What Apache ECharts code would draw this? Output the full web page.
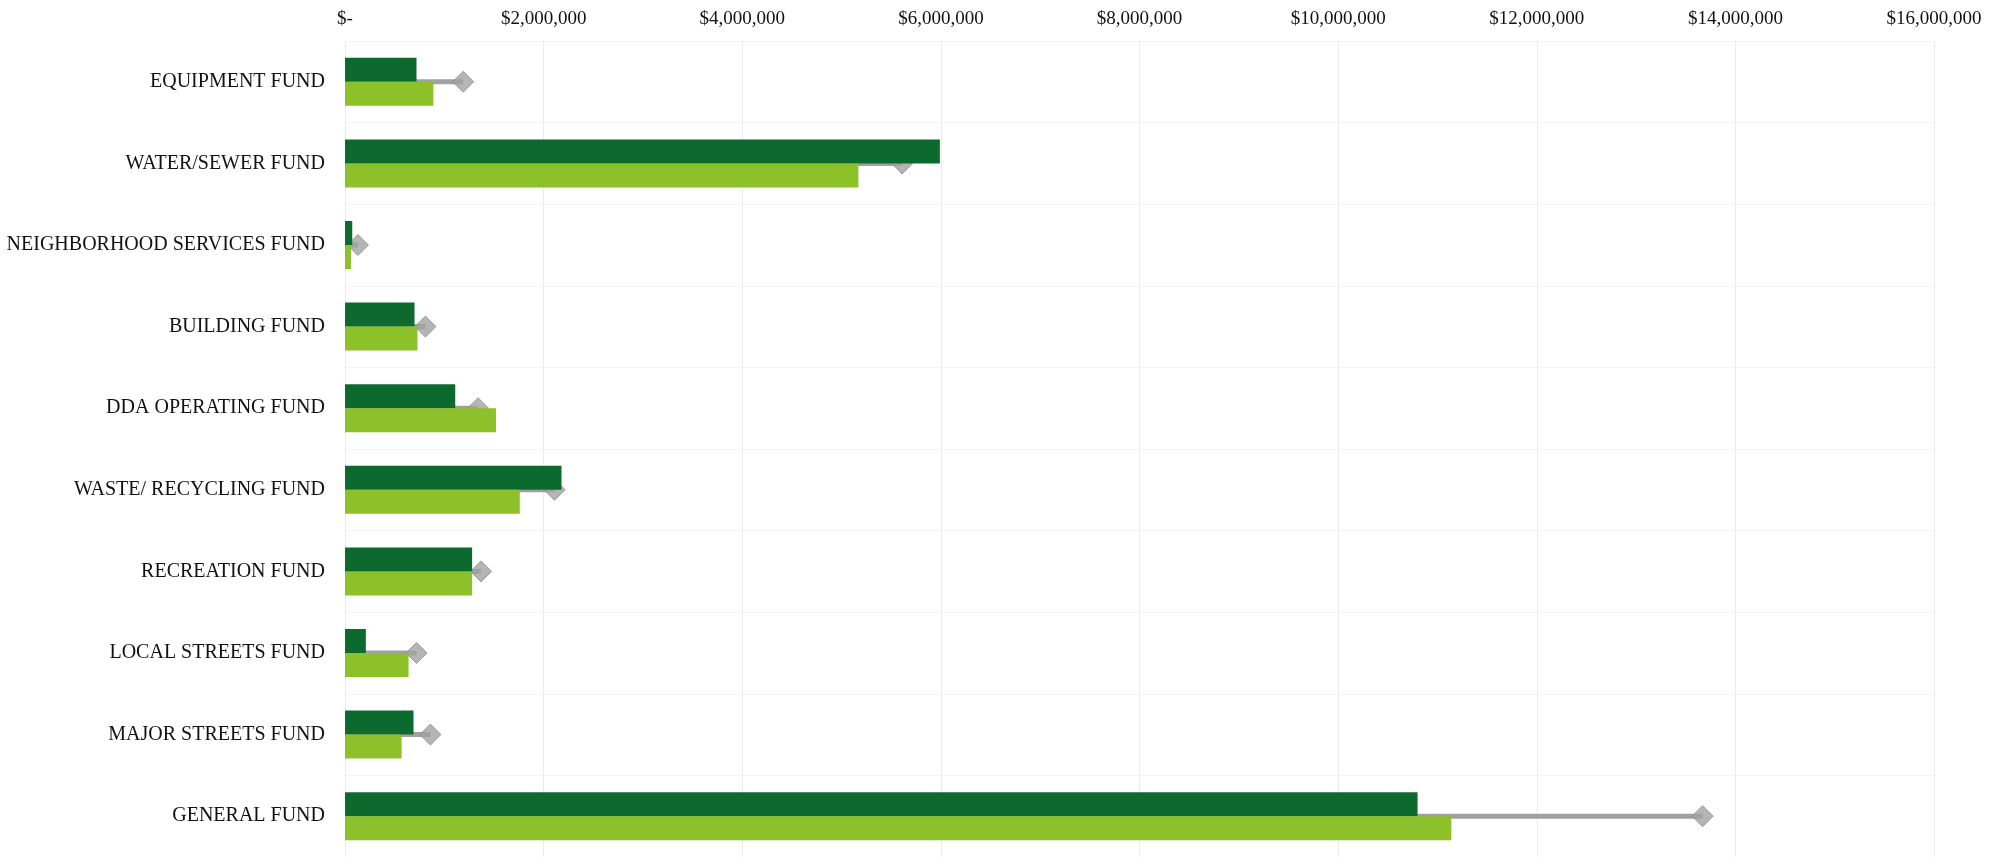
<!DOCTYPE html>
<html>
<head>
<meta charset="utf-8">
<title>Fund Comparison</title>
<script src="https://cdn.jsdelivr.net/npm/echarts@6/dist/echarts.min.js"></script>
<style>
  html, body { margin: 0; padding: 0; background: #fff; }
  #chart { width: 1998px; height: 857px; }
</style>
</head>
<body>
<div id="chart"></div>
<script>
// categories listed bottom to top, like the source spreadsheet
const funds = [
  'GENERAL FUND',
  'MAJOR STREETS FUND',
  'LOCAL STREETS FUND',
  'RECREATION FUND',
  'WASTE/ RECYCLING FUND',
  'DDA OPERATING FUND',
  'BUILDING FUND',
  'NEIGHBORHOOD SERVICES FUND',
  'WATER/SEWER FUND',
  'EQUIPMENT FUND'
];

// dark green bars (upper bar of each pair)
const darkValues = [10800000, 690000, 210000, 1280000, 2180000, 1110000, 700000, 73000, 5990000, 720000];
// light green bars (lower bar of each pair)
const lightValues = [11140000, 570000, 640000, 1280000, 1760000, 1520000, 730000, 60000, 5170000, 890000];
// grey line with diamond marker
const greyValues = [13670000, 860000, 720000, 1370000, 2110000, 1340000, 810000, 130000, 5610000, 1190000];

const tickLabels = ['$-', '$2,000,000', '$4,000,000', '$6,000,000', '$8,000,000',
  '$10,000,000', '$12,000,000', '$14,000,000', '$16,000,000'];

const chart = echarts.init(document.getElementById('chart'));

const labelFont = '"Liberation Serif", "DejaVu Serif", serif';

const option = {
  backgroundColor: '#ffffff',
  animation: false,
  grid: {
    left: 345,
    right: 64,
    top: 41,
    bottom: -12
  },
  xAxis: {
    type: 'value',
    position: 'top',
    min: 0,
    max: 16000000,
    interval: 2000000,
    axisLine: { show: false },
    axisTick: { show: false },
    axisLabel: {
      margin: 12,
      fontFamily: labelFont,
      fontSize: 19,
      color: '#111',
      formatter: function (v) {
        return tickLabels[Math.round(v / 2000000)];
      }
    },
    splitLine: { lineStyle: { color: '#ececec', width: 1 } }
  },
  yAxis: [
    {
      type: 'category',
      data: funds,
      axisLine: { show: false },
      axisTick: { show: false },
      axisLabel: {
        margin: 20,
        fontFamily: labelFont,
        fontSize: 20,
        color: '#111'
      },
      splitLine: { show: true, lineStyle: { color: '#f4f4f4', width: 1 } }
    },
    {
      type: 'category',
      data: funds,
      show: false
    }
  ],
  series: [
    {
      name: 'grey line',
      type: 'bar',
      yAxisIndex: 1,
      data: greyValues,
      barWidth: 5,
      itemStyle: { color: '#a0a0a0' },
      z: 1
    },
    {
      name: 'dark',
      type: 'bar',
      data: darkValues,
      barWidth: 24,
      barGap: '0%',
      itemStyle: { color: '#0d6a2f' },
      z: 3
    },
    {
      name: 'light',
      type: 'bar',
      data: lightValues,
      barWidth: 24,
      barGap: '0%',
      itemStyle: { color: '#8cc12a' },
      z: 3
    },
    {
      name: 'grey marker',
      type: 'scatter',
      yAxisIndex: 1,
      data: greyValues,
      symbol: 'diamond',
      symbolSize: [21, 21],
      itemStyle: { color: '#a3a3a3', borderColor: '#8a8a8a', borderWidth: 1 },
      z: 2
    }
  ]
};

chart.setOption(option);

window.addEventListener('resize', function () {
  chart.resize();
});
</script>
</body>
</html>
